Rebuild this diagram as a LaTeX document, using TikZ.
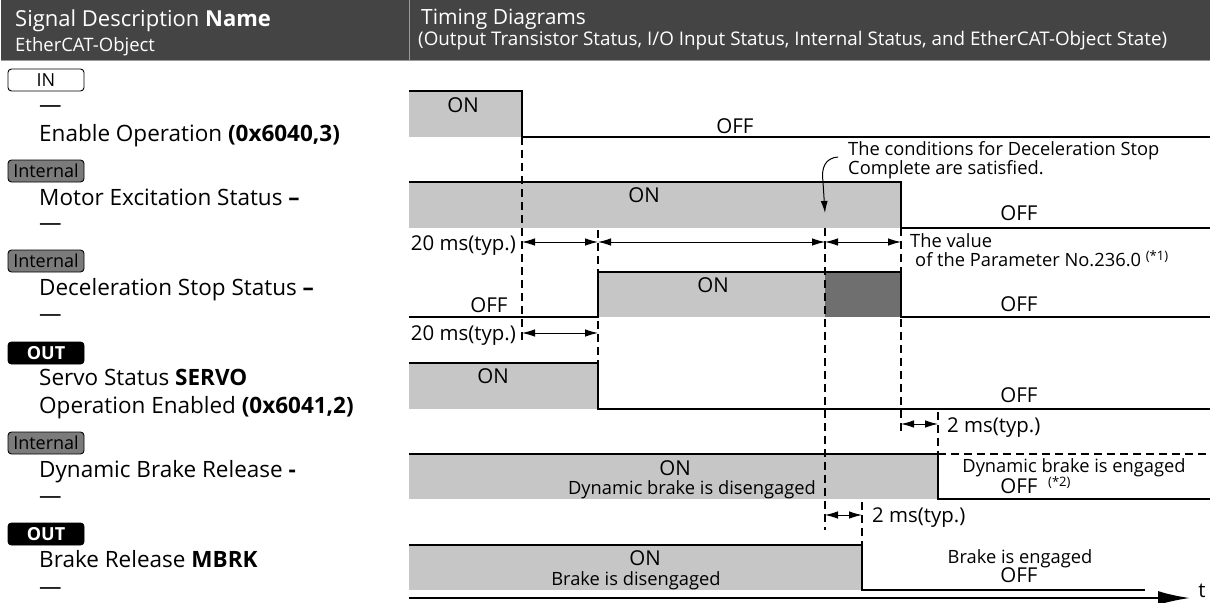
\documentclass[tikz,border=0pt]{standalone}
\usepackage{fontspec}
\setmainfont{Open Sans}
\usetikzlibrary{shapes,arrows,arrows.meta,positioning}

\definecolor{headbg}{HTML}{444444}
\definecolor{headrule}{HTML}{9A9A9A}
\definecolor{ongray}{HTML}{C6C6C6}
\definecolor{stopgray}{HTML}{6F6F6F}
\definecolor{intgray}{HTML}{7B7B7B}

\newcommand{\namefont}{\fontsize{22.5}{27}\selectfont}
\newcommand{\headfont}{\fontsize{22}{26}\selectfont}
\newcommand{\timingfont}{\fontsize{21}{24}\selectfont}
\newcommand{\subheadfont}{\fontsize{18.5}{22}\selectfont}
\newcommand{\captfont}{\fontsize{18.8}{20}\selectfont}
\newcommand{\statefont}{\fontsize{20.5}{22}\selectfont}
\newcommand{\notefont}{\fontsize{18.3}{19}\selectfont}
\newcommand{\dimfont}{\fontsize{20.4}{22}\selectfont}
\newcommand{\tagfont}{\fontsize{18}{20}\selectfont}
\newcommand{\fnfont}{\fontsize{13}{13}\selectfont}

\begin{document}
\begin{tikzpicture}[x=1pt, y=-1pt,
    sig/.style={line width=2.3pt, line join=miter},
    guide/.style={line width=1.1pt, dash pattern=on 8pt off 5pt},
    dim/.style={line width=0.9pt, {Latex[length=13pt,width=7.5pt]}-{Latex[length=13pt,width=7.5pt]}},
    state/.style={font=\statefont, anchor=base, inner sep=0pt},
    note/.style={font=\notefont, inner sep=0pt},
    sname/.style={font=\namefont, anchor=base west, inner sep=0pt},
    tag/.style={draw=black, line width=0.9pt, rounded corners=3.5pt, minimum width=76pt,
                minimum height=22pt, inner sep=0pt, font=\tagfont}]

    \useasboundingbox (0,0) rectangle (1217,602);

    % Header
    \fill[headbg] (1,0) rectangle (1210,61);
    \draw[headrule, line width=1pt] (1,61) -- (1210,61);
    \draw[headrule, line width=1pt] (409,0) -- (409,61);
    \node[anchor=base west, inner sep=0pt, text=white, font=\headfont] (hname) at (15,27) {Signal Description \textbf{Name}};
    \node[anchor=base west, inner sep=0pt, text=white, font=\subheadfont] (hobj) at (15,52) {EtherCAT-Object};
    \node[anchor=base west, inner sep=0pt, text=white, font=\timingfont] (htiming) at (421,25) {Timing Diagrams};
    \node[anchor=base west, inner sep=0pt, text=white, font=\captfont] (hstates) at (418,46) {(Output Transistor Status, I/O Input Status, Internal Status, and EtherCAT-Object State)};

    % Signal names
    \node[tag, fill=white] (tagin) at (46,80) {IN};
    \node[sname] (enadash) at (39,112) {—};
    \node[sname] (ena) at (39,141) {Enable Operation \textbf{(0x6040,3)}};

    \node[tag, fill=intgray] (tagexc) at (46,171) {Internal};
    \node[sname] (exc) at (39,205) {Motor Excitation Status \textbf{--}};
    \node[sname] (excdash) at (39,230) {—};

    \node[tag, fill=intgray] (tagdec) at (46,261) {Internal};
    \node[sname] (dec) at (39,295) {Deceleration Stop Status \textbf{--}};
    \node[sname] (decdash) at (39,321) {—};

    \node[tag, fill=black, text=white] (tagsv) at (46,353) {\textbf{OUT}};
    \node[sname] (sv) at (39,385) {Servo Status \textbf{SERVO}};
    \node[sname] (svobj) at (39,413) {Operation Enabled \textbf{(0x6041,2)}};

    \node[tag, fill=intgray] (tagdb) at (46,443) {Internal};
    \node[sname] (db) at (39,477) {Dynamic Brake Release \textbf{-}};
    \node[sname] (dbdash) at (39,503) {—};

    \node[tag, fill=black, text=white] (tagbk) at (46,534) {\textbf{OUT}};
    \node[sname] (bk) at (39,567) {Brake Release \textbf{MBRK}};
    \node[sname] (bkdash) at (39,594) {—};

    % ON areas
    \fill[ongray] (409,91) rectangle (522,137);
    \fill[ongray] (409,182) rectangle (901,228);
    \fill[ongray] (598,272) rectangle (825,317);
    \fill[stopgray] (825,272) rectangle (901,317);
    \fill[ongray] (409,363) rectangle (598,409);
    \fill[ongray] (409,454) rectangle (938,499);
    \fill[ongray] (409,545) rectangle (862,590);

    % Timing guides
    \draw[guide] (522,137) -- (522,340);
    \draw[guide] (598,230) -- (598,363);
    \draw[guide] (825,228) -- (825,530);
    \draw[guide] (901,228) -- (901,433);
    \draw[guide] (938,412) -- (938,454);
    \draw[guide] (862,502) -- (862,545);

    % Waveforms
    \draw[sig] (409,91) -- (522,91) -- (522,137) -- (1210,137);
    \draw[sig] (409,182) -- (901,182) -- (901,228) -- (1210,228);
    \draw[sig] (409,317) -- (598,317) -- (598,272) -- (901,272) -- (901,317) -- (1210,317);
    \draw[sig] (409,363) -- (598,363) -- (598,409) -- (1210,409);
    \draw[sig] (409,454) -- (938,454) -- (938,499) -- (1210,499);
    \draw[sig, dash pattern=on 8pt off 5pt] (938,454) -- (1210,454);
    \draw[sig] (409,545) -- (862,545) -- (862,590) -- (1145,590);

    % Time axis
    \draw[line width=2.3pt, -{Latex[length=32pt,width=14pt]}] (409,598) -- (1190,598);
    \node[font=\statefont, inner sep=0pt] (taxis) at (1202,591) {t};

    % States
    \node[state] (s1on) at (463,112) {ON};
    \node[state] (s1off) at (735,133) {OFF};
    \node[state] (s2on) at (644,202) {ON};
    \node[state] (s2off) at (1019,220) {OFF};
    \node[state] (s3off) at (489,312) {OFF};
    \node[state] (s3on) at (713,292) {ON};
    \node[state] (s3off2) at (1019,311) {OFF};
    \node[state] (s4on) at (493,383) {ON};
    \node[state] (s4off) at (1019,402) {OFF};
    \node[state] (s5on) at (675,475) {ON};
    \node[note, anchor=base] (s5dis) at (692,494) {Dynamic brake is disengaged};
    \node[note, anchor=base] (s5eng) at (1074,472) {Dynamic brake is engaged};
    \node[state] (s5off) at (1019,493) {OFF};
    \node[anchor=base west, inner sep=0pt, font=\fnfont] (s5fn) at (1048,486) {(*2)};
    \node[state] (s6on) at (645,565) {ON};
    \node[note, anchor=base] (s6dis) at (636,585) {Brake is disengaged};
    \node[note, anchor=base] (s6eng) at (1020,563) {Brake is engaged};
    \node[state] (s6off) at (1019,582) {OFF};

    % Intervals
    \draw[dim] (522,242) -- (598,242);
    \draw[dim] (598,242) -- (825,242);
    \draw[dim] (825,242) -- (901,242);
    \draw[dim] (522,333) -- (598,333);
    \draw[dim] (901,424) -- (938,424);
    \draw[dim] (825,515) -- (862,515);
    \node[font=\dimfont, anchor=base east, inner sep=0pt] (t20a) at (516,250) {20 ms(typ.)};
    \node[font=\dimfont, anchor=base east, inner sep=0pt] (t20b) at (516,340) {20 ms(typ.)};
    \node[font=\dimfont, anchor=base west, inner sep=0pt] (t2a) at (947,432) {2 ms(typ.)};
    \node[font=\dimfont, anchor=base west, inner sep=0pt] (t2b) at (872,522) {2 ms(typ.)};
    \node[note, anchor=base west] (pval) at (910,247) {The value};
    \node[note, anchor=base west] (pnum) at (915,266) {of the Parameter No.236.0 \raisebox{6pt}{\fnfont(*1)}};

    % Deceleration stop note
    \node[note, anchor=base west] (cond) at (848,155) {The conditions for Deceleration Stop};
    \node[note, anchor=base west] (cond2) at (848,174) {Complete are satisfied.};
    \coordinate (stopok) at (825,213);
    \draw[line width=1pt, -{Latex[length=12pt,width=7pt]}] (838,157) .. controls (825,158) and (821,168) .. (823,182) -- (stopok);
\end{tikzpicture}
\end{document}
